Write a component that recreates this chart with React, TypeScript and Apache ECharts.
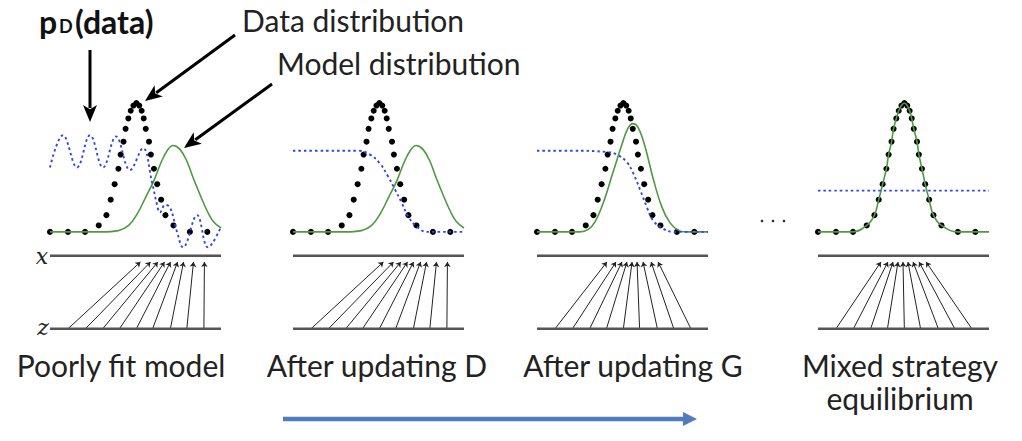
import React, { useEffect, useRef } from 'react';
import * as echarts from 'echarts';

// every panel: x runs 0..10, density 0 at the baseline, 1 at the data peak
const dataDist: number[][] = [
  [0, 0], [1.05, 0], [2.05, 0], [2.85, 0.05], [3.3, 0.13], [3.55, 0.25], [3.78, 0.37],
  [4.0, 0.49], [4.13, 0.6], [4.3, 0.7], [4.42, 0.8], [4.58, 0.88], [4.72, 0.94], [4.88, 0.98],
  [5.05, 1.0], [5.22, 0.98], [5.36, 0.94], [5.48, 0.88], [5.6, 0.8], [5.79, 0.7], [5.9, 0.6],
  [6.08, 0.49], [6.27, 0.37], [6.5, 0.25], [6.75, 0.13], [7.22, 0.05], [8.18, 0], [9.2, 0],
];

const modelPoor: number[][] = [
  [0, 0], [3.0, 0], [4.0, 0.01], [4.6, 0.05], [5.1, 0.14], [5.6, 0.27], [6.05, 0.39], [6.5, 0.54],
  [6.85, 0.63], [7.2, 0.67], [7.6, 0.64], [8.0, 0.55], [8.4, 0.41], [8.8, 0.28], [9.2, 0.16],
  [9.55, 0.08], [10, 0.03],
];

const modelAfterG: number[][] = [
  [0, 0], [2.5, 0], [3.0, 0.02], [3.4, 0.08], [3.86, 0.22], [4.44, 0.46], [4.97, 0.68], [5.3, 0.8],
  [5.6, 0.84], [5.91, 0.81], [6.32, 0.66], [6.78, 0.42], [7.31, 0.19], [7.78, 0.07], [8.3, 0.01],
  [8.7, 0], [10, 0],
];

const modelEquilibrium: number[][] = [...dataDist, [10, 0]];

const discPoor: number[][] = [
  [0, 0.5], [0.76, 0.75], [1.58, 0.5], [2.34, 0.75], [3.1, 0.5], [3.86, 0.74], [4.68, 0.48],
  [5.44, 0.65], [5.96, 0.39], [6.26, 0.21], [6.43, 0.15], [6.73, 0.21], [7.02, 0.19], [7.43, 0],
  [7.78, -0.12], [8.6, 0.13], [9.24, -0.12], [10, 0.04],
];

const discAfterD: number[][] = [
  [0, 0.63], [2, 0.63], [3.8, 0.63], [4.5, 0.6], [5.09, 0.53], [5.56, 0.43], [5.96, 0.33],
  [6.38, 0.22], [6.73, 0.12], [7.25, 0.04], [7.84, 0], [10, 0],
];

const discAfterG: number[][] = [
  [0, 0.63], [2, 0.63], [4.09, 0.62], [4.68, 0.6], [5.26, 0.54], [5.61, 0.46], [6.02, 0.33],
  [6.43, 0.19], [6.78, 0.09], [7.31, 0.03], [7.95, 0], [10, 0],
];

const discEquilibrium: number[][] = [[0, 0.32], [10, 0.32]];

// z samples and where the generator sends them on x
const zSamples = [1.05, 2.07, 3.08, 4.06, 5.05, 6.0, 7.04, 8.0, 9.0];
const xMappedPoor = [5.29, 5.88, 6.31, 6.7, 7.05, 7.46, 7.81, 8.39, 9.03];
const xMappedAfterG = [4.09, 4.62, 4.97, 5.26, 5.56, 5.85, 6.2, 6.67, 7.08];
const xMappedEquilibrium = [3.68, 4.09, 4.39, 4.68, 4.97, 5.26, 5.56, 5.91, 6.32];

const captions = ['Poorly fit model', 'After updating D', 'After updating G', 'Mixed strategy\nequilibrium'];

const X_LEVEL = -0.186;
const TIP_LEVEL = -0.233;
const Z_LEVEL = -0.752;

const panels = [
  { left: 50, model: modelPoor, disc: discPoor, mapped: xMappedPoor, cx: 121 },
  { left: 293, model: modelPoor, disc: discAfterD, mapped: xMappedPoor, cx: 377 },
  { left: 537, model: modelAfterG, disc: discAfterG, mapped: xMappedAfterG, cx: 633 },
  { left: 818, model: modelEquilibrium, disc: discEquilibrium, mapped: xMappedEquilibrium, cx: 900 },
];

const arrow = (x1: number, y1: number, x2: number, y2: number, w: number, hl: number, hw: number, color: string, notch = 0.25) => {
  const dx = x2 - x1;
  const dy = y2 - y1;
  const len = Math.hypot(dx, dy);
  const ux = dx / len;
  const uy = dy / len;
  const px = -uy;
  const py = ux;
  const bx = x2 - ux * hl;
  const by = y2 - uy * hl;
  return [
    { type: 'line', shape: { x1, y1, x2: bx + ux * 3, y2: by + uy * 3 }, style: { stroke: color, lineWidth: w }, silent: true },
    {
      type: 'polygon',
      shape: {
        points: [
          [x2, y2],
          [bx + (px * hw) / 2, by + (py * hw) / 2],
          [bx + ux * hl * notch, by + uy * hl * notch],
          [bx - (px * hw) / 2, by - (py * hw) / 2],
        ],
      },
      style: { fill: color },
      silent: true,
    },
  ];
};

const FONT = 'Lato, "Open Sans", sans-serif';

const App: React.FC = () => {
  const chartRef = useRef<HTMLDivElement | null>(null);

  useEffect(() => {
    if (!chartRef.current) return;
    const chart = echarts.init(chartRef.current, null, { renderer: 'svg' });

    const series: any[] = [];
    panels.forEach((p, i) => {
      const ax = { xAxisIndex: i, yAxisIndex: i };
      series.push(
        {
          type: 'line', ...ax, data: [[0, X_LEVEL], [10, X_LEVEL]], showSymbol: false, silent: true,
          lineStyle: { color: '#555', width: 2.5 },
        },
        {
          type: 'line', ...ax, data: [[0, Z_LEVEL], [10, Z_LEVEL]], showSymbol: false, silent: true,
          lineStyle: { color: '#555', width: 2.5 },
        },
        {
          type: 'lines', coordinateSystem: 'cartesian2d', ...ax, silent: true,
          symbol: ['none', 'arrow'], symbolSize: 5,
          lineStyle: { color: '#222', width: 1, opacity: 1, curveness: 0 },
          data: zSamples.map((z, k) => ({ coords: [[z, Z_LEVEL], [p.mapped[k], TIP_LEVEL]] })),
        },
        {
          type: 'line', ...ax, data: p.model, smooth: 0.4, showSymbol: false, silent: true,
          lineStyle: { color: '#4d9a40', width: 1.6 },
        },
        {
          type: 'line', ...ax, data: p.disc, smooth: 0.4, showSymbol: false, silent: true,
          lineStyle: { color: '#2f45ea', width: 1.9, type: [2.5, 3] },
        },
        {
          type: 'scatter', ...ax, data: dataDist, symbolSize: 6, silent: true,
          itemStyle: { color: '#000', opacity: 1 },
        },
      );
    });

    const graphic: any[] = [
      { type: 'text', left: 39, top: 5, style: { text: 'p', font: `bold 32px ${FONT}`, fill: '#111' } },
      { type: 'text', left: 59, top: 17, style: { text: 'D', font: `bold 18px ${FONT}`, fill: '#111' } },
      { type: 'text', left: 75, top: 5, style: { text: '(data)', font: `bold 32px ${FONT}`, fill: '#111' } },
      { type: 'text', left: 242, top: 5, style: { text: 'Data distribution', font: `30px ${FONT}`, fill: '#222' } },
      { type: 'text', left: 277, top: 48, style: { text: 'Model distribution', font: `30px ${FONT}`, fill: '#222' } },
      ...arrow(90, 50, 90, 122, 3, 17, 14, '#000'),
      ...arrow(235, 35, 145, 101, 3, 17, 14, '#000'),
      ...arrow(272, 84, 184, 148, 3, 17, 14, '#000'),
      ...arrow(283, 419, 697, 419, 4.5, 14, 14, '#4f7cbf', 0),
      { type: 'text', x: 42, y: 256, style: { text: 'x', font: 'italic 22px "DejaVu Serif", serif', fill: '#222', align: 'center', verticalAlign: 'middle' } },
      { type: 'text', x: 43, y: 327, style: { text: 'z', font: 'italic 22px "DejaVu Serif", serif', fill: '#222', align: 'center', verticalAlign: 'middle' } },
      { type: 'circle', shape: { cx: 762, cy: 221, r: 1.3 }, style: { fill: '#333' } },
      { type: 'circle', shape: { cx: 773, cy: 221, r: 1.3 }, style: { fill: '#333' } },
      { type: 'circle', shape: { cx: 784, cy: 221, r: 1.3 }, style: { fill: '#333' } },
      ...panels.map((p, i) => ({
        type: 'text', x: p.cx, y: 348,
        style: { text: captions[i], font: `30px ${FONT}`, fill: '#222', align: 'center', verticalAlign: 'top', lineHeight: 33 },
      })),
    ];

    chart.setOption({
      animation: false,
      grid: panels.map((p) => ({ left: p.left, top: 103, width: 171, height: 232 })),
      xAxis: panels.map((_, i) => ({ type: 'value', gridIndex: i, min: 0, max: 10, show: false })),
      yAxis: panels.map((_, i) => ({ type: 'value', gridIndex: i, min: -0.8, max: 1, show: false })),
      series,
      graphic,
    });

    return () => {
      chart.dispose();
    };
  }, []);

  return (
    <div
      ref={chartRef}
      style={{ position: 'fixed', left: 0, top: 0, width: '1022px', height: '441px', background: '#fff' }}
    />
  );
};

export default App;
